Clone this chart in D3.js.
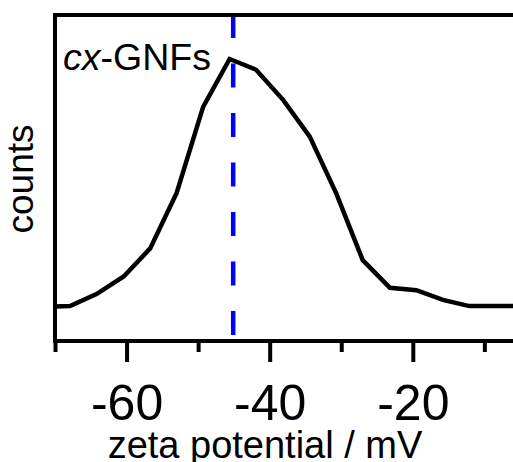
<!DOCTYPE html>
<html>
<head>
<meta charset="utf-8">
<script src="https://cdn.jsdelivr.net/npm/d3@7"></script>
<style>
  body { margin: 0; background: #fff; }
  text { font-family: "Liberation Sans", Arial, sans-serif; fill: #000; }
</style>
</head>
<body>
<div id="chart"></div>
<script>
// zeta potential (mV) and counts (arbitrary units)
const zeta = [-71.6, -67.9, -64.2, -60.4, -56.7, -53.0, -49.3, -45.6, -41.9, -38.1,
  -34.4, -30.7, -27.0, -23.2, -19.5, -15.8, -12.1, -8.4, -4.6];
const counts = [10.5, 10.7, 14.4, 19.8, 28.4, 45.4, 71.8, 86.5, 83.2, 73.9,
  62.7, 45.3, 24.8, 16.3, 15.6, 12.6, 10.7, 10.7, 10.7];
const majorTicks = [-60, -40, -20];
const minorTicks = [-70, -50, -30, -10];
const peakZeta = -45.1;
const sampleLabel = ['cx', '-GNFs'];

function graphIt() {
  const W = 513, H = 462;
  const margin = { top: 15, right: 0, bottom: 121, left: 55 };

  const svg = d3.select('#chart')
    .append('svg')
    .attr('width', W)
    .attr('height', H);

  const x = d3.scaleLinear().domain([-70, -6]).range([margin.left, W - margin.right]);
  const y = d3.scaleLinear().domain([0, 100]).range([H - margin.bottom, margin.top]);

  svg.append('clipPath').attr('id', 'clip')
    .append('rect')
    .attr('x', margin.left).attr('y', 0)
    .attr('width', W - margin.left).attr('height', H - margin.bottom);

  const data = zeta.map(function (z, i) { return { z: z, c: counts[i] }; });

  const line = d3.line()
    .x(function (d) { return x(d.z); })
    .y(function (d) { return y(d.c); });

  // dashed marker at peak
  svg.append('line')
    .attr('x1', x(peakZeta)).attr('x2', x(peakZeta))
    .attr('y1', y(100) - 1).attr('y2', y(0))
    .attr('stroke', '#0000ff')
    .attr('stroke-width', 4.5)
    .attr('stroke-dasharray', '24,25.5');

  svg.append('path')
    .datum(data)
    .attr('clip-path', 'url(#clip)')
    .attr('d', line)
    .attr('fill', 'none')
    .attr('stroke', '#000')
    .attr('stroke-width', 4.5)
    .attr('stroke-linejoin', 'miter');

  // minor ticks
  const xMinor = d3.axisBottom(x).tickValues(minorTicks).tickSize(11).tickSizeOuter(0).tickFormat('');
  svg.append('g').attr('class', 'x minor')
    .attr('transform', 'translate(0,' + y(0) + ')')
    .call(xMinor);

  // major ticks
  const xAxis = d3.axisBottom(x).tickValues(majorTicks).tickSize(21).tickSizeOuter(0)
    .tickPadding(22.5).tickFormat(d3.format('d'));
  const gx = svg.append('g').attr('class', 'x axis')
    .attr('transform', 'translate(0,' + y(0) + ')')
    .call(xAxis);
  gx.selectAll('text')
    .style('font-size', '50px')
    .text(function (d) { return String(d).replace('\u2212', '-'); });

  svg.selectAll('.domain').remove();
  svg.selectAll('.tick line').attr('stroke', '#000').attr('stroke-width', 4);

  // frame: left, bottom, top
  const frame = d3.path();
  frame.moveTo(W, y(100));
  frame.lineTo(margin.left, y(100));
  frame.lineTo(margin.left, y(0));
  frame.lineTo(W, y(0));
  svg.append('path')
    .attr('d', frame.toString())
    .attr('fill', 'none')
    .attr('stroke', '#000')
    .attr('stroke-width', 4)
    .attr('stroke-linecap', 'square');

  // labels
  svg.append('text')
    .attr('x', 265).attr('y', 458)
    .attr('text-anchor', 'middle')
    .style('font-size', '38px')
    .text('zeta potential / mV');

  svg.append('text')
    .attr('transform', 'translate(33,179) rotate(-90)')
    .attr('text-anchor', 'middle')
    .style('font-size', '37px')
    .text('counts');

  const lab = svg.append('text')
    .attr('x', 63).attr('y', 69.5)
    .style('font-size', '37.5px');
  lab.append('tspan').style('font-style', 'italic').text(sampleLabel[0]);
  lab.append('tspan').text(sampleLabel[1]);
}

graphIt();
</script>
</body>
</html>
